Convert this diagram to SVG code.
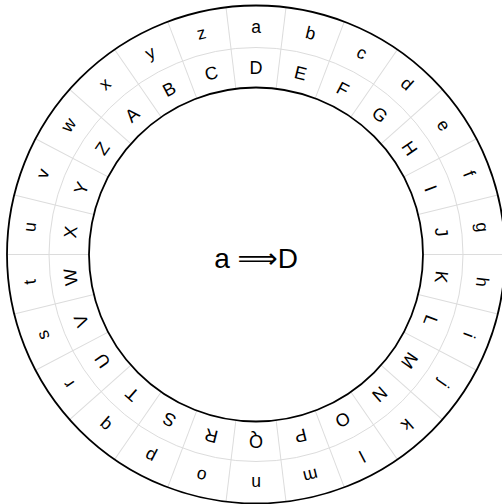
<svg xmlns="http://www.w3.org/2000/svg" width="502" height="504" viewBox="0 0 502 504">
<style>
.ring{fill:none;stroke:#000;stroke-width:1.8}
.div line{stroke:#dcdcdc;stroke-width:1}
.lo{font-family:"Liberation Sans",Arial,sans-serif;font-size:17.5px;text-anchor:middle;dominant-baseline:central;fill:#000}
.up{font-family:"Liberation Sans",Arial,sans-serif;font-size:18px;text-anchor:middle;dominant-baseline:central;fill:#000}
.ctr{font-family:"Liberation Sans","DejaVu Sans",sans-serif;font-size:28px;text-anchor:middle;fill:#000}
</style>
<rect width="502" height="504" fill="#fff"/>
<g id="connectors" class="div">
<line x1="256" y1="87.5" x2="256" y2="5.5" transform="rotate(6.923 256 254.5)"/>
<line x1="256" y1="87.5" x2="256" y2="5.5" transform="rotate(20.769 256 254.5)"/>
<line x1="256" y1="87.5" x2="256" y2="5.5" transform="rotate(34.615 256 254.5)"/>
<line x1="256" y1="87.5" x2="256" y2="5.5" transform="rotate(48.462 256 254.5)"/>
<line x1="256" y1="87.5" x2="256" y2="5.5" transform="rotate(62.308 256 254.5)"/>
<line x1="256" y1="87.5" x2="256" y2="5.5" transform="rotate(76.154 256 254.5)"/>
<line x1="256" y1="87.5" x2="256" y2="5.5" transform="rotate(90 256 254.5)"/>
<line x1="256" y1="87.5" x2="256" y2="5.5" transform="rotate(103.846 256 254.5)"/>
<line x1="256" y1="87.5" x2="256" y2="5.5" transform="rotate(117.692 256 254.5)"/>
<line x1="256" y1="87.5" x2="256" y2="5.5" transform="rotate(131.538 256 254.5)"/>
<line x1="256" y1="87.5" x2="256" y2="5.5" transform="rotate(145.385 256 254.5)"/>
<line x1="256" y1="87.5" x2="256" y2="5.5" transform="rotate(159.231 256 254.5)"/>
<line x1="256" y1="87.5" x2="256" y2="5.5" transform="rotate(173.077 256 254.5)"/>
<line x1="256" y1="87.5" x2="256" y2="5.5" transform="rotate(186.923 256 254.5)"/>
<line x1="256" y1="87.5" x2="256" y2="5.5" transform="rotate(200.769 256 254.5)"/>
<line x1="256" y1="87.5" x2="256" y2="5.5" transform="rotate(214.615 256 254.5)"/>
<line x1="256" y1="87.5" x2="256" y2="5.5" transform="rotate(228.462 256 254.5)"/>
<line x1="256" y1="87.5" x2="256" y2="5.5" transform="rotate(242.308 256 254.5)"/>
<line x1="256" y1="87.5" x2="256" y2="5.5" transform="rotate(256.154 256 254.5)"/>
<line x1="256" y1="87.5" x2="256" y2="5.5" transform="rotate(270 256 254.5)"/>
<line x1="256" y1="87.5" x2="256" y2="5.5" transform="rotate(283.846 256 254.5)"/>
<line x1="256" y1="87.5" x2="256" y2="5.5" transform="rotate(297.692 256 254.5)"/>
<line x1="256" y1="87.5" x2="256" y2="5.5" transform="rotate(311.538 256 254.5)"/>
<line x1="256" y1="87.5" x2="256" y2="5.5" transform="rotate(325.385 256 254.5)"/>
<line x1="256" y1="87.5" x2="256" y2="5.5" transform="rotate(339.231 256 254.5)"/>
<line x1="256" y1="87.5" x2="256" y2="5.5" transform="rotate(353.077 256 254.5)"/>
</g>
<g id="rings">
<circle class="ring" cx="256" cy="254.5" r="249"/>
<circle class="ring" cx="256" cy="254.5" r="207" style="stroke:#dcdcdc;stroke-width:1"/>
<circle class="ring" cx="256" cy="254.5" r="167"/>
</g>
<g id="outer-ring">
<g id="p-a"><text class="lo" x="256" y="26.5" transform="rotate(0 256 254.5)">a</text></g>
<g id="p-b"><text class="lo" x="256" y="26.5" transform="rotate(13.846 256 254.5)">b</text></g>
<g id="p-c"><text class="lo" x="256" y="26.5" transform="rotate(27.692 256 254.5)">c</text></g>
<g id="p-d"><text class="lo" x="256" y="26.5" transform="rotate(41.538 256 254.5)">d</text></g>
<g id="p-e"><text class="lo" x="256" y="26.5" transform="rotate(55.385 256 254.5)">e</text></g>
<g id="p-f"><text class="lo" x="256" y="26.5" transform="rotate(69.231 256 254.5)">f</text></g>
<g id="p-g"><text class="lo" x="256" y="26.5" transform="rotate(83.077 256 254.5)">g</text></g>
<g id="p-h"><text class="lo" x="256" y="26.5" transform="rotate(96.923 256 254.5)">h</text></g>
<g id="p-i"><text class="lo" x="256" y="26.5" transform="rotate(110.769 256 254.5)">i</text></g>
<g id="p-j"><text class="lo" x="256" y="26.5" transform="rotate(124.615 256 254.5)">j</text></g>
<g id="p-k"><text class="lo" x="256" y="26.5" transform="rotate(138.462 256 254.5)">k</text></g>
<g id="p-l"><text class="lo" x="256" y="26.5" transform="rotate(152.308 256 254.5)">l</text></g>
<g id="p-m"><text class="lo" x="256" y="26.5" transform="rotate(166.154 256 254.5)">m</text></g>
<g id="p-n"><text class="lo" x="256" y="26.5" transform="rotate(180 256 254.5)">n</text></g>
<g id="p-o"><text class="lo" x="256" y="26.5" transform="rotate(193.846 256 254.5)">o</text></g>
<g id="p-p"><text class="lo" x="256" y="26.5" transform="rotate(207.692 256 254.5)">p</text></g>
<g id="p-q"><text class="lo" x="256" y="26.5" transform="rotate(221.538 256 254.5)">q</text></g>
<g id="p-r"><text class="lo" x="256" y="26.5" transform="rotate(235.385 256 254.5)">r</text></g>
<g id="p-s"><text class="lo" x="256" y="26.5" transform="rotate(249.231 256 254.5)">s</text></g>
<g id="p-t"><text class="lo" x="256" y="26.5" transform="rotate(263.077 256 254.5)">t</text></g>
<g id="p-u"><text class="lo" x="256" y="26.5" transform="rotate(276.923 256 254.5)">u</text></g>
<g id="p-v"><text class="lo" x="256" y="26.5" transform="rotate(290.769 256 254.5)">v</text></g>
<g id="p-w"><text class="lo" x="256" y="26.5" transform="rotate(304.615 256 254.5)">w</text></g>
<g id="p-x"><text class="lo" x="256" y="26.5" transform="rotate(318.462 256 254.5)">x</text></g>
<g id="p-y"><text class="lo" x="256" y="26.5" transform="rotate(332.308 256 254.5)">y</text></g>
<g id="p-z"><text class="lo" x="256" y="26.5" transform="rotate(346.154 256 254.5)">z</text></g>
</g>
<g id="inner-ring">
<g id="c-D"><text class="up" x="256" y="68" transform="rotate(0 256 254.5)">D</text></g>
<g id="c-E"><text class="up" x="256" y="68" transform="rotate(13.846 256 254.5)">E</text></g>
<g id="c-F"><text class="up" x="256" y="68" transform="rotate(27.692 256 254.5)">F</text></g>
<g id="c-G"><text class="up" x="256" y="68" transform="rotate(41.538 256 254.5)">G</text></g>
<g id="c-H"><text class="up" x="256" y="68" transform="rotate(55.385 256 254.5)">H</text></g>
<g id="c-I"><text class="up" x="256" y="68" transform="rotate(69.231 256 254.5)">I</text></g>
<g id="c-J"><text class="up" x="256" y="68" transform="rotate(83.077 256 254.5)">J</text></g>
<g id="c-K"><text class="up" x="256" y="68" transform="rotate(96.923 256 254.5)">K</text></g>
<g id="c-L"><text class="up" x="256" y="68" transform="rotate(110.769 256 254.5)">L</text></g>
<g id="c-M"><text class="up" x="256" y="68" transform="rotate(124.615 256 254.5)">M</text></g>
<g id="c-N"><text class="up" x="256" y="68" transform="rotate(138.462 256 254.5)">N</text></g>
<g id="c-O"><text class="up" x="256" y="68" transform="rotate(152.308 256 254.5)">O</text></g>
<g id="c-P"><text class="up" x="256" y="68" transform="rotate(166.154 256 254.5)">P</text></g>
<g id="c-Q"><text class="up" x="256" y="68" transform="rotate(180 256 254.5)">Q</text></g>
<g id="c-R"><text class="up" x="256" y="68" transform="rotate(193.846 256 254.5)">R</text></g>
<g id="c-S"><text class="up" x="256" y="68" transform="rotate(207.692 256 254.5)">S</text></g>
<g id="c-T"><text class="up" x="256" y="68" transform="rotate(221.538 256 254.5)">T</text></g>
<g id="c-U"><text class="up" x="256" y="68" transform="rotate(235.385 256 254.5)">U</text></g>
<g id="c-V"><text class="up" x="256" y="68" transform="rotate(249.231 256 254.5)">V</text></g>
<g id="c-W"><text class="up" x="256" y="68" transform="rotate(263.077 256 254.5)">W</text></g>
<g id="c-X"><text class="up" x="256" y="68" transform="rotate(276.923 256 254.5)">X</text></g>
<g id="c-Y"><text class="up" x="256" y="68" transform="rotate(290.769 256 254.5)">Y</text></g>
<g id="c-Z"><text class="up" x="256" y="68" transform="rotate(304.615 256 254.5)">Z</text></g>
<g id="c-A"><text class="up" x="256" y="68" transform="rotate(318.462 256 254.5)">A</text></g>
<g id="c-B"><text class="up" x="256" y="68" transform="rotate(332.308 256 254.5)">B</text></g>
<g id="c-C"><text class="up" x="256" y="68" transform="rotate(346.154 256 254.5)">C</text></g>
</g>
<g id="center-label"><text class="ctr" x="256" y="268">a ⟹D</text></g>
</svg>
